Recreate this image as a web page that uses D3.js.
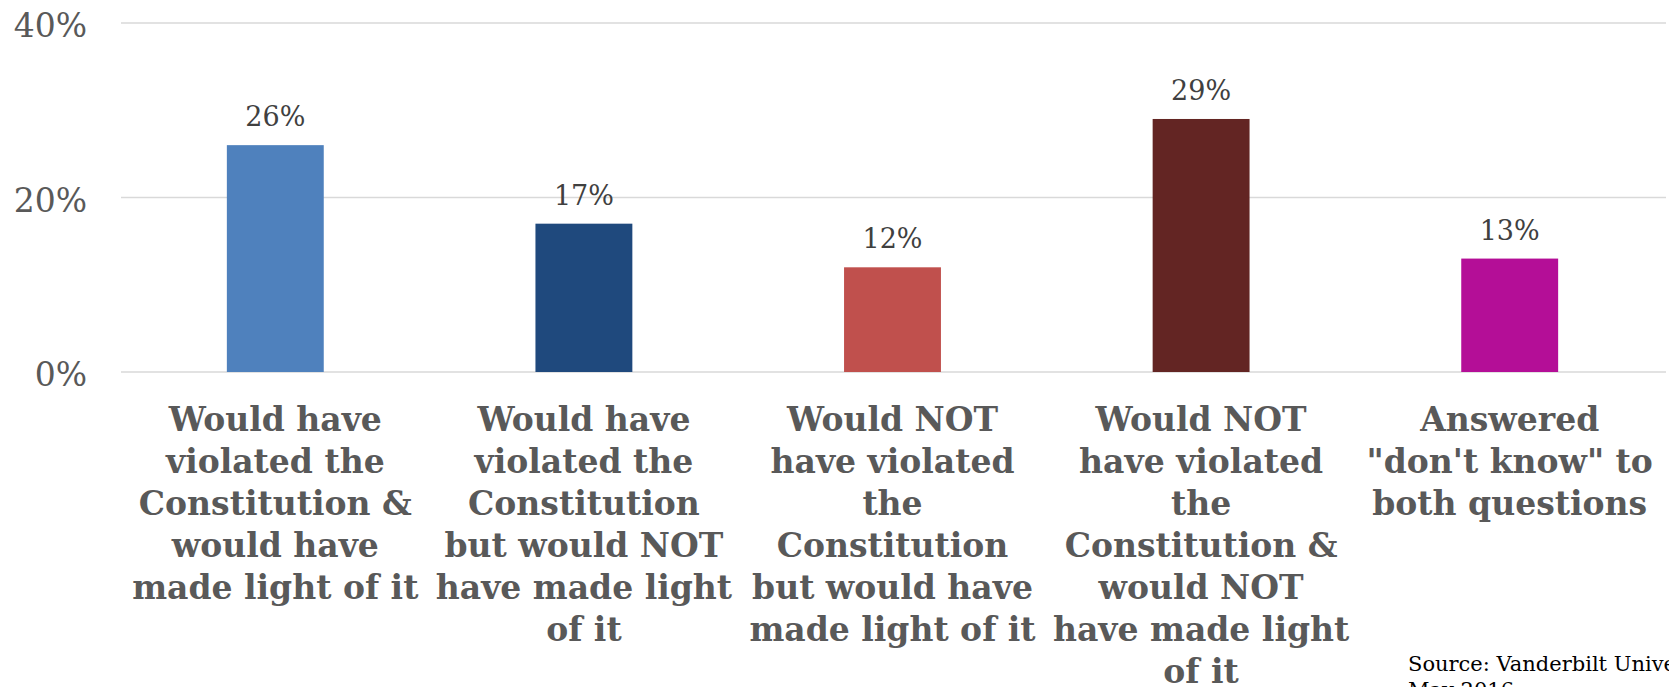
<!DOCTYPE html>
<html><head><meta charset="utf-8">
<script src="https://cdn.jsdelivr.net/npm/d3@7"></script>
<style>body{margin:0;background:#fff;overflow:hidden}</style>
</head><body>
<svg id="chart" width="1669" height="687"></svg>
<script>
const categories = [
  ["Would have", "violated the", "Constitution &", "would have", "made light of it"],
  ["Would have", "violated the", "Constitution", "but would NOT", "have made light", "of it"],
  ["Would NOT", "have violated", "the", "Constitution", "but would have", "made light of it"],
  ["Would NOT", "have violated", "the", "Constitution &", "would NOT", "have made light", "of it"],
  ["Answered", "\"don't know\" to", "both questions"]
];
const values = [26, 17, 12, 29, 13];
const colors = ["#4f81bd", "#1f497d", "#c0504d", "#632523", "#b40e97"];
const yTicks = [0, 20, 40];
const sourceLines = ["Source: Vanderbilt University,", "May 2016"];

const svg = d3.select("#chart");
const serif = "'DejaVu Serif', 'Liberation Serif', serif";
const margin = {left: 121, right: 5, top: 23, bottom: 315};
const W = 1669, H = 687;

const x = d3.scaleBand().domain(d3.range(values.length))
  .range([margin.left, W - margin.right]).paddingInner(0.686).paddingOuter(0.343);
const y = d3.scaleLinear().domain([0, 40]).range([372, 23]);

// gridlines
svg.append("g").selectAll("line").data(yTicks).join("line")
  .attr("x1", margin.left).attr("x2", 1666)
  .attr("y1", d => y(d)).attr("y2", d => y(d))
  .attr("stroke", "#d9d9d9").attr("stroke-width", 1.5);

// y axis labels
const yAxis = d3.axisLeft(y).tickValues(yTicks).tickFormat(d => d + "%").tickSize(0).tickPadding(0);
const ya = svg.append("g").attr("transform", "translate(87,0)").call(yAxis);
ya.select(".domain").remove();
ya.selectAll("text").attr("font-family", serif).attr("font-size", 33).attr("fill", "#595959").attr("dy", "0.42em");

// bars
svg.append("g").selectAll("rect").data(values).join("rect")
  .attr("x", (d, i) => x(i)).attr("width", x.bandwidth())
  .attr("y", d => y(d)).attr("height", d => y(0) - y(d))
  .attr("fill", (d, i) => colors[i]);

// value labels
svg.append("g").selectAll("text").data(values).join("text")
  .attr("x", (d, i) => x(i) + x.bandwidth() / 2).attr("y", d => y(d) - 19)
  .attr("text-anchor", "middle").attr("font-family", serif).attr("font-size", 27)
  .attr("fill", "#404040").text(d => d + "%");

// category labels
const cat = svg.append("g").selectAll("text").data(categories).join("text")
  .attr("text-anchor", "middle").attr("font-family", serif).attr("font-weight", "bold")
  .attr("font-size", 33).attr("fill", "#595959");
cat.selectAll("tspan").data((d, i) => d.map(l => ({l, i}))).join("tspan")
  .attr("x", d => x(d.i) + x.bandwidth() / 2)
  .attr("y", (d, j) => 431 + j * 42)
  .text(d => d.l);

// source
svg.append("text").attr("font-family", serif).attr("font-size", 21).attr("fill", "#000")
  .selectAll("tspan").data(sourceLines).join("tspan")
  .attr("x", 1408).attr("y", (d, j) => 671 + j * 26).text(d => d);
</script>
</body></html>
